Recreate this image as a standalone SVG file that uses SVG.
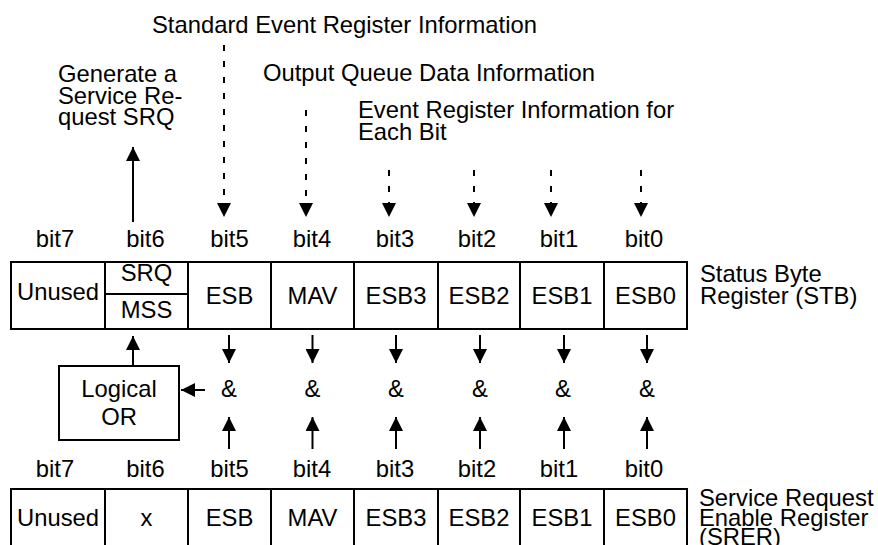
<svg xmlns="http://www.w3.org/2000/svg" width="878" height="545" viewBox="0 0 878 545">
<style>
text{font-family:"Liberation Sans",Arial,sans-serif;font-size:23.8px;fill:#000}
.c{text-anchor:middle}
.box{fill:#fff;stroke:#000;stroke-width:2}
.ln{fill:none;stroke:#000;stroke-width:2}
.sl{stroke:#000;stroke-width:2;fill:none;marker-end:url(#ah)}
.dl{stroke:#000;stroke-width:2;fill:none;stroke-dasharray:6 10;marker-end:url(#ah)}
</style>
<defs>
<marker id="ah" markerUnits="userSpaceOnUse" markerWidth="14" markerHeight="14" viewBox="0 0 13 13" refX="13" refY="6.5" orient="auto">
<path d="M0,0 L13,6.5 L0,13 z" fill="#000"/>
</marker>
</defs>
<rect width="878" height="545" fill="#fff"/>

<g id="labels-top">
<text x="152" y="33">Standard Event Register Information</text>
<text x="58" y="82">Generate a</text>
<text x="58" y="103.5">Service Re-</text>
<text x="58" y="125">quest SRQ</text>
<text x="263" y="81">Output Queue Data Information</text>
<text x="358" y="118">Event Register Information for</text>
<text x="358" y="140">Each Bit</text>
</g>

<g id="bits-stb">
<text class="c" x="55" y="247">bit7</text>
<text class="c" x="145.5" y="247">bit6</text>
<text class="c" x="229.5" y="247">bit5</text>
<text class="c" x="312" y="247">bit4</text>
<text class="c" x="395" y="247">bit3</text>
<text class="c" x="477" y="247">bit2</text>
<text class="c" x="559" y="247">bit1</text>
<text class="c" x="644" y="247">bit0</text>
</g>

<g id="stb">
<rect class="box" x="11" y="262" width="676" height="67"/>
<path class="ln" d="M105,262V329M188,262V329M271,262V329M354,262V329M438,262V329M520,262V329M604,262V329M105,294H188"/>
<text class="c" x="58" y="300">Unused</text>
<text class="c" x="146.5" y="281">SRQ</text>
<text class="c" x="146.5" y="318">MSS</text>
<text class="c" x="229.5" y="304">ESB</text>
<text class="c" x="312.5" y="304">MAV</text>
<text class="c" x="396" y="304">ESB3</text>
<text class="c" x="479" y="304">ESB2</text>
<text class="c" x="562" y="304">ESB1</text>
<text class="c" x="645.5" y="304">ESB0</text>
</g>

<g id="stb-label">
<text x="700" y="282">Status Byte</text>
<text x="700" y="304">Register (STB)</text>
</g>

<g id="logical-or">
<rect class="box" x="59" y="366" width="120" height="74"/>
<text class="c" x="119" y="397">Logical</text>
<text class="c" x="119" y="425">OR</text>
</g>

<g id="and-gates">
<text class="c" x="229" y="397">&amp;</text>
<text class="c" x="312.5" y="397">&amp;</text>
<text class="c" x="396" y="397">&amp;</text>
<text class="c" x="480" y="397">&amp;</text>
<text class="c" x="563" y="397">&amp;</text>
<text class="c" x="647" y="397">&amp;</text>
</g>

<g id="bits-srer">
<text class="c" x="55" y="477">bit7</text>
<text class="c" x="145.5" y="477">bit6</text>
<text class="c" x="229.5" y="477">bit5</text>
<text class="c" x="312" y="477">bit4</text>
<text class="c" x="395" y="477">bit3</text>
<text class="c" x="477" y="477">bit2</text>
<text class="c" x="559" y="477">bit1</text>
<text class="c" x="644" y="477">bit0</text>
</g>

<g id="srer">
<rect class="box" x="11" y="489" width="676" height="80"/>
<path class="ln" d="M105,489V569M188,489V569M271,489V569M354,489V569M438,489V569M520,489V569M604,489V569"/>
<text class="c" x="58" y="526">Unused</text>
<text class="c" x="146.5" y="526">x</text>
<text class="c" x="229.5" y="526">ESB</text>
<text class="c" x="312.5" y="526">MAV</text>
<text class="c" x="396" y="526">ESB3</text>
<text class="c" x="479" y="526">ESB2</text>
<text class="c" x="562" y="526">ESB1</text>
<text class="c" x="645.5" y="526">ESB0</text>
</g>

<g id="srer-label">
<text x="699" y="506">Service Request</text>
<text x="699" y="526">Enable Register</text>
<text x="699" y="545">(SRER)</text>
</g>

<g id="connectors">
<line class="sl" x1="133" y1="222" x2="133" y2="147"/>
<line class="dl" x1="224" y1="45" x2="224" y2="217"/>
<line class="dl" x1="306" y1="110" x2="306" y2="217"/>
<line class="dl" x1="389" y1="170" x2="389" y2="217"/>
<line class="dl" x1="474" y1="170" x2="474" y2="217"/>
<line class="dl" x1="551" y1="170" x2="551" y2="217"/>
<line class="dl" x1="641" y1="170" x2="641" y2="217"/>
<line class="sl" x1="229" y1="335" x2="229" y2="363"/>
<line class="sl" x1="312.5" y1="335" x2="312.5" y2="363"/>
<line class="sl" x1="396" y1="335" x2="396" y2="363"/>
<line class="sl" x1="480" y1="335" x2="480" y2="363"/>
<line class="sl" x1="564" y1="335" x2="564" y2="363"/>
<line class="sl" x1="647" y1="335" x2="647" y2="363"/>
<line class="sl" x1="229" y1="449" x2="229" y2="417"/>
<line class="sl" x1="312.5" y1="449" x2="312.5" y2="417"/>
<line class="sl" x1="396" y1="449" x2="396" y2="417"/>
<line class="sl" x1="480" y1="449" x2="480" y2="417"/>
<line class="sl" x1="564" y1="449" x2="564" y2="417"/>
<line class="sl" x1="647" y1="449" x2="647" y2="417"/>
<line class="sl" x1="133" y1="366" x2="133" y2="336"/>
<line class="sl" x1="205" y1="390" x2="181" y2="390"/>
</g>
</svg>
